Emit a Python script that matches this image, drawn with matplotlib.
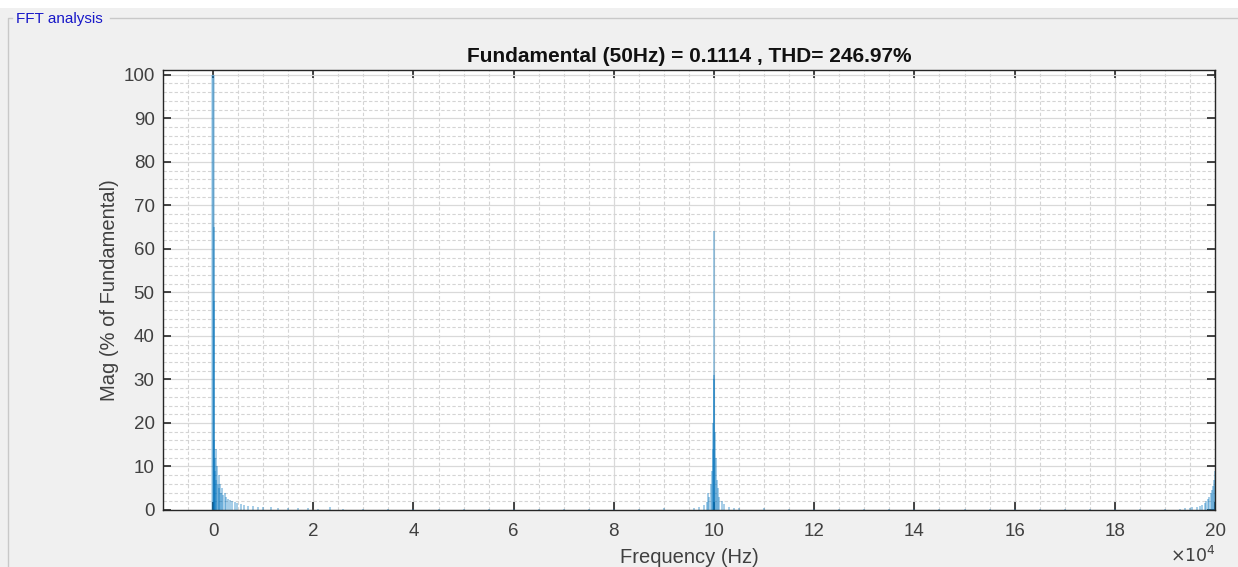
import matplotlib
matplotlib.use("Agg")
import matplotlib.pyplot as plt
from matplotlib.patches import Rectangle
from matplotlib.ticker import MultipleLocator, FuncFormatter

plt.rcParams["font.family"] = ["Liberation Sans", "DejaVu Sans"]

# spectrum (Hz, % of fundamental)
low_freq = [50, 100, 150, 250, 350, 450, 550, 650, 800, 950, 1100, 1250, 1400, 1600,
            1800, 2000, 2300, 2600, 3000, 3400, 3800, 4300, 4800, 5500, 6200, 7000,
            8000, 9000, 10000, 11500, 13000, 15000, 17000, 19000, 21000, 23400, 26000]
low_mag = [100, 65, 48, 16, 12, 9, 14, 7, 10, 6, 8, 5, 6, 4,
           5, 3.5, 4, 3, 2.5, 2.2, 2.0, 1.8, 1.5, 1.3, 1.1, 1.0,
           0.9, 0.8, 0.7, 0.6, 0.5, 0.45, 0.4, 0.35, 0.3, 0.8, 0.3]

mid_freq = [96000, 97000, 98000, 98500, 98800, 99000, 99300, 99500, 99700, 99850, 99950,
            100000, 100050, 100150, 100300, 100500, 100700, 101000, 101500, 102000,
            103000, 104000, 105000]
mag_mid = [0.4, 0.8, 1.2, 1.8, 4.0, 3.0, 6.0, 9.0, 14.0, 20.0, 31.0,
           64.0, 30.0, 18.0, 12.0, 7.0, 5.0, 3.0, 2.0, 1.3,
           0.8, 0.5, 0.4]

floor_freq = [30000, 35000, 40000, 45000, 50000, 55000, 60000, 65000, 70000, 75000, 80000,
              85000, 90000, 110000, 115000, 120000, 125000, 130000, 135000, 140000,
              145000, 150000, 155000, 160000, 165000, 170000, 175000, 180000, 185000, 190000]
floor_mag = [0.3, 0.25, 0.3, 0.2, 0.2, 0.25, 0.2, 0.2, 0.25, 0.2, 0.25,
             0.3, 0.35, 0.35, 0.3, 0.3, 0.25, 0.2, 0.2, 0.2,
             0.2, 0.2, 0.2, 0.2, 0.2, 0.2, 0.25, 0.25, 0.3, 0.3]

high_freq = [193000, 194000, 195000, 195500, 196500, 197000, 197500, 198000, 198300,
             198600, 198900, 199200, 199400, 199600, 199800, 199950]
high_mag = [0.3, 0.35, 0.5, 0.6, 0.8, 1.0, 1.2, 1.6, 2.0, 2.5, 3.0, 3.8, 4.5, 5.5, 7.0, 9.0]

title = "Fundamental (50Hz) = 0.1114 , THD= 246.97%"

fig = plt.figure(figsize=(12.38, 5.67), dpi=100)
fig.patch.set_facecolor("white")

# gray panel and its frame
fig.patches.append(Rectangle((0, 0), 1, 1 - 8 / 567, transform=fig.transFigure,
                             facecolor="#f0f0f0", edgecolor="none", zorder=-10))
fig.lines.append(plt.Line2D([8 / 1238, 8 / 1238, 12 / 1238], [0, 1 - 18 / 567, 1 - 18 / 567],
                            transform=fig.transFigure, color="#c8c8c8", lw=1))
fig.lines.append(plt.Line2D([110 / 1238, 1], [1 - 18 / 567, 1 - 18 / 567],
                            transform=fig.transFigure, color="#c8c8c8", lw=1))
fig.text(16 / 1238, 1 - 19 / 567, "FFT analysis", color="#1818c8", fontsize=11,
         va="center", ha="left")

ax = fig.add_axes([163 / 1238, 1 - 510 / 567, (1215 - 163) / 1238, (510 - 70) / 567])
ax.set_facecolor("white")

for f, m in [(low_freq, low_mag), (mid_freq, mag_mid), (floor_freq, floor_mag), (high_freq, high_mag)]:
    ax.vlines(f, 0, m, color="#0072BD", alpha=0.38, lw=1.3)
ax.vlines([50], 0, [100], color="#0072BD", alpha=0.28, lw=2.6)

ax.set_xlim(-10000, 200000)
ax.set_ylim(0, 101.1)
ax.xaxis.set_major_locator(MultipleLocator(20000))
ax.xaxis.set_minor_locator(MultipleLocator(5000))
ax.yaxis.set_major_locator(MultipleLocator(10))
ax.yaxis.set_minor_locator(MultipleLocator(2))
ax.xaxis.set_major_formatter(FuncFormatter(lambda v, p: "%d" % round(v / 10000)))

ax.grid(which="major", color="#d9d9d9", lw=0.9, ls="-")
ax.grid(which="minor", color="#d4d4d4", lw=0.8, ls=(0, (3, 2)))
ax.set_axisbelow(True)

ax.tick_params(which="major", direction="in", length=6, width=1.2, color="#262626",
               top=True, right=True, labelsize=13.5, labelcolor="#404040")
ax.tick_params(axis="x", which="major", pad=9)
ax.tick_params(axis="y", which="major", pad=6)
ax.tick_params(which="minor", length=0, top=True, right=True)
for s in ax.spines.values():
    s.set_color("#262626")
    s.set_linewidth(1)

ax.set_title(title, fontsize=15, fontweight="bold", color="#111111", pad=6)
ax.set_xlabel("Frequency (Hz)", fontsize=14.5, color="#404040", labelpad=6)
ax.set_ylabel("Mag (% of Fundamental)", fontsize=14.5, color="#404040", labelpad=3)
fig.text(1170 / 1238, 1 - 555 / 567, r"$\times10^{4}$", fontsize=12.5, color="#404040",
         ha="left", va="center")

fig.savefig("out.png", dpi=100, facecolor=fig.get_facecolor())
